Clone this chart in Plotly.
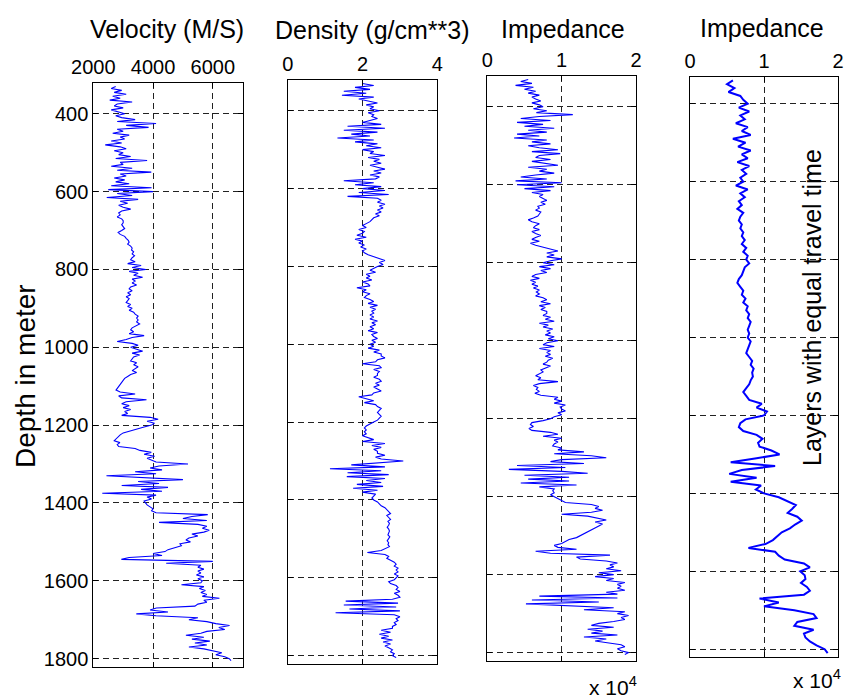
import plotly.graph_objects as go

# ---------------- data ----------------
# depth samples, every 5 m from 330 m to 1805 m
depth_m = list(range(330, 1806, 5))

velocity_ms = [
    2750, 2600, 2950, 2700, 3100, 2650, 2900, 2550, 3300, 2800,
    2700, 3000, 2600, 2850, 3050, 2750, 2950, 3400, 2800, 4100,
    3100, 3850, 2800, 3000, 2650, 3200, 2900, 3050, 2600, 2950,
    2400, 2900, 3100, 2700, 3000, 2850, 3250, 2750, 3800, 2900,
    3000, 2600, 3300, 2800, 3940, 2900, 3100, 2700, 3050, 2750,
    3200, 2600, 3950, 2500, 4000, 2800, 3300, 2450, 3500, 2900,
    3150, 2850, 3000, 3250, 2950, 2850, 2900, 2800, 2950, 3000,
    3000, 2950, 3000, 3050, 2950, 2830, 2900, 3050, 3100, 3170,
    3200, 3150, 3250, 3300, 3280, 3350, 3300, 3380, 3300, 3250,
    3400, 3150, 3600, 3300, 3760, 3200, 3500, 3350, 3650, 3300,
    3400, 3300, 3450, 3250, 3200, 3300, 3150, 3250, 3100, 3200,
    3150, 3100, 3250, 3150, 3300, 3200, 3350, 3400, 3500, 3450,
    3500, 3450, 3550, 3400, 3300, 3250, 3350, 3200, 3700, 3300,
    3100, 2800, 3300, 3500, 3250, 3450, 3650, 3300, 3550, 3350,
    3300, 3250, 3450, 3350, 3500, 3400, 3300, 3450, 3250, 3150,
    3050, 3000, 2950, 2900, 2850, 2800, 2760, 2900, 3400, 2850,
    2950, 3780, 3100, 2950, 3200, 3000, 3250, 3050, 3150, 2950,
    3900, 4170, 3800, 4050, 3950, 3700, 3450, 3250, 3000, 2900,
    2830, 2780, 2700, 2890, 2800, 2850, 3400, 3560, 3940, 3700,
    4050, 3800, 3950, 4100, 5170, 4200, 3900, 4300, 3400, 4100,
    2440, 4000, 5000, 3500, 4200, 2950, 4500, 3600, 4300, 2300,
    4100, 3800, 3950, 3700, 3750, 3800, 3900, 4000, 3950, 4100,
    5830, 5300, 5000, 5800, 4200, 5500, 5800, 5650, 5880, 5700,
    5300, 5500, 5200, 5100, 5250, 4900, 4950, 4700, 4500, 4400,
    4000, 4300, 3200, 2940, 6000, 4440, 5600, 5500, 5700, 5500,
    5600, 5450, 5700, 5500, 5650, 5600, 4950, 5700, 5550, 5750,
    5600, 5800, 5650, 6220, 5700, 5800, 5500, 5400, 4110, 3900,
    4500, 3440, 4100, 5500, 5200, 5800, 6100, 6560, 6200, 6400,
    5800, 5600, 5100, 5700, 5300, 5900, 5400, 5800, 5200, 5700,
    6000, 6300, 6100, 6400, 6550, 6610,
]

density_gcc = [
    2.0, 2.3, 1.8, 2.2, 1.5, 2.1, 1.45, 2.3, 1.9, 2.2,
    2.4, 2.1, 2.3, 2.2, 2.45, 2.15, 2.3, 2.25, 2.4, 2.2,
    2.0, 2.5, 1.6, 2.6, 1.5, 2.4, 1.7, 2.2, 1.33, 2.3,
    1.8, 2.4, 2.1, 2.5, 2.0, 2.3, 2.2, 2.6, 2.15, 2.45,
    2.3, 2.5, 2.2, 2.4, 2.6, 2.3, 2.5, 2.2, 2.45, 2.35,
    1.5, 2.3, 1.8, 2.5, 2.0, 2.6, 1.9, 2.7, 1.6, 2.4,
    2.5, 2.4, 2.6, 2.45, 2.55, 2.4, 2.5, 2.35, 2.45, 2.3,
    2.25, 2.2, 2.1, 2.0, 2.1, 1.9, 2.05, 2.0, 1.85, 2.1,
    1.8, 2.0, 1.9, 2.05, 1.95, 2.1, 2.0, 2.05, 2.15, 2.3,
    2.5, 2.6, 2.45, 2.55, 2.4, 2.3, 2.2, 2.35, 2.1, 2.2,
    2.1, 2.25, 2.0, 2.15, 2.2, 1.85, 2.1, 2.0, 2.2, 2.1,
    2.05, 2.2, 2.3, 2.15, 2.4, 2.2, 2.35, 2.25, 2.3, 2.2,
    2.3, 2.2, 2.4, 2.25, 2.35, 2.2, 2.3, 2.15, 2.4, 2.25,
    2.3, 2.4, 2.25, 2.35, 2.2, 2.3, 2.15, 2.45, 2.3, 2.5,
    2.5, 2.6, 2.4, 2.35, 2.0, 2.45, 2.5, 2.3, 2.45, 2.4,
    2.4, 2.3, 2.45, 2.5, 2.35, 2.45, 2.3, 2.4, 2.5, 2.3,
    2.25, 1.9, 2.1, 2.3, 2.05, 2.35, 2.4, 2.5, 2.45, 2.4,
    2.45, 2.5, 2.45, 2.4, 2.3, 2.2, 2.1, 2.05, 2.1, 2.05,
    2.1, 2.0, 2.15, 2.3, 2.0, 2.6, 2.25, 2.5, 2.3, 2.4,
    2.4, 2.6, 2.35, 2.5, 3.09, 2.3, 1.7, 2.6, 1.13, 2.5,
    1.6, 2.7, 1.58, 2.6, 2.1, 2.5, 1.85, 2.55, 1.75, 2.4,
    2.0, 2.35, 2.3, 2.25, 2.3, 2.4, 2.45, 2.5, 2.6, 2.65,
    2.7, 2.75, 2.65, 2.7, 2.75, 2.68, 2.72, 2.7, 2.66, 2.7,
    2.72, 2.7, 2.68, 2.73, 2.7, 2.66, 2.7, 2.68, 2.72, 2.6,
    2.5, 2.13, 2.6, 2.7, 2.65, 2.75, 2.85, 2.9, 2.85, 2.95,
    2.9, 2.95, 2.85, 2.95, 2.9, 2.85, 2.7, 2.75, 2.9, 2.95,
    2.9, 3.0, 2.85, 2.95, 3.0, 2.8, 1.55, 2.95, 1.5, 2.9,
    1.65, 3.0, 1.28, 2.85, 3.0, 2.9, 2.95, 2.85, 2.9, 2.8,
    2.8, 2.5, 2.75, 2.45, 2.7, 2.5, 2.8, 2.55, 2.75, 2.6,
    2.7, 2.8, 2.75, 2.85, 2.8, 2.9,
]

# impedance in units of 10^4
impedance_depth = [
    0.55, 0.45, 0.6, 0.38, 0.62, 0.5, 0.65, 0.55, 0.7, 0.6,
    0.65, 0.72, 0.6, 0.7, 0.75, 0.62, 0.8, 0.66, 1.15, 0.7,
    0.45, 0.85, 0.4, 0.75, 0.5, 0.9, 0.55, 0.8, 0.4, 0.7,
    0.36, 0.8, 0.6, 0.85, 0.55, 0.7, 0.95, 0.6, 0.98, 0.7,
    0.65, 0.85, 0.6, 0.75, 0.95, 0.55, 0.8, 0.7, 0.9, 0.65,
    0.45, 0.8, 0.38, 1.0, 0.4, 0.9, 0.5, 0.85, 0.6, 0.75,
    0.7, 0.75, 0.8, 0.72, 0.78, 0.68, 0.7, 0.65, 0.72, 0.7,
    0.68, 0.62, 0.55, 0.6, 0.7, 0.65, 0.62, 0.7, 0.6, 0.65,
    0.72, 0.65, 0.6, 0.7, 0.58, 0.65, 0.75, 0.85, 0.95, 0.8,
    0.9, 0.8, 1.0, 0.85, 0.75, 0.9, 0.7, 0.85, 0.72, 0.8,
    0.65, 0.6, 0.7, 0.58, 0.65, 0.6, 0.68, 0.62, 0.7, 0.66,
    0.7, 0.65, 0.75, 0.8, 0.72, 0.85, 0.7, 0.78, 0.72, 0.8,
    0.8, 0.75, 0.85, 0.78, 0.9, 0.7, 0.82, 0.75, 0.88, 0.8,
    0.85, 0.78, 0.9, 0.82, 0.95, 0.8, 0.75, 0.9, 0.7, 0.85,
    0.8, 0.85, 0.78, 0.88, 0.82, 0.8, 0.75, 0.85, 0.78, 0.72,
    0.75, 0.7, 0.65, 0.72, 0.68, 0.95, 0.7, 0.62, 0.68, 0.66,
    0.7, 0.64, 0.72, 0.95, 0.9, 1.0, 0.9, 1.05, 0.98, 1.0,
    1.05, 0.95, 1.0, 0.9, 0.85, 0.75, 0.6, 0.58, 0.62, 0.56,
    0.6, 0.85, 0.95, 0.75, 1.0, 0.9, 0.95, 0.9, 0.88, 1.0,
    0.95, 1.3, 0.9, 1.4, 1.6, 1.0, 0.85, 1.3, 0.4, 1.05,
    0.29, 1.0, 1.35, 0.5, 1.1, 0.55, 1.1, 0.45, 1.2, 0.7,
    0.9, 0.88, 0.9, 0.85, 0.9, 0.95, 1.0, 1.05, 1.4, 1.5,
    1.45, 1.55, 1.4, 1.0, 1.35, 1.5, 1.6, 1.45, 1.55, 1.5,
    1.45, 1.4, 1.35, 1.3, 1.25, 1.2, 1.1, 1.05, 1.0, 0.9,
    0.95, 1.2, 0.65, 0.85, 1.65, 1.2, 1.25, 1.6, 1.75, 1.65,
    1.7, 1.6, 1.8, 1.5, 1.7, 1.45, 1.7, 1.6, 1.85, 1.75,
    1.8, 1.75, 1.85, 1.6, 1.75, 0.7, 1.75, 0.6, 1.5, 0.52,
    1.1, 1.7, 1.3, 1.85, 1.75, 1.9, 1.8, 1.85, 1.7, 1.5,
    1.4, 1.7, 1.35, 1.55, 1.4, 1.75, 1.3, 1.6, 1.45, 1.65,
    1.8, 1.85, 1.75, 1.8, 1.9, 1.85,
]

# layers with equal travel time: time samples (ms) every 5 ms
time_ms = list(range(70, 806, 5))
impedance_time = [
    0.58, 0.5, 0.6, 0.52, 0.68, 0.72,
    0.78, 0.66, 0.8, 0.68, 0.74, 0.62, 0.78, 0.7, 0.82, 0.58,
    0.75, 0.65, 0.82, 0.7, 0.78, 0.64, 0.8, 0.7, 0.76, 0.68,
    0.72, 0.62, 0.78, 0.68, 0.74, 0.66, 0.7, 0.64, 0.72, 0.68,
    0.66, 0.7, 0.68, 0.72, 0.7, 0.74, 0.7, 0.76, 0.72, 0.78,
    0.76, 0.8, 0.74, 0.72, 0.7, 0.66, 0.64, 0.68, 0.72, 0.7,
    0.75, 0.72, 0.78, 0.76, 0.8, 0.78, 0.82, 0.8, 0.78, 0.8,
    0.78, 0.82, 0.8, 0.78, 0.76, 0.8, 0.84, 0.82, 0.86, 0.84,
    0.85, 0.82, 0.8, 0.76, 0.72, 0.76, 0.8, 0.97, 0.9, 1.04,
    1.0, 0.75, 0.68, 0.66, 0.72, 0.9, 0.98, 0.92, 0.94, 1.1,
    1.21, 0.9, 0.55, 1.15, 0.7, 0.53, 0.9, 0.55, 0.96, 0.89,
    1.0, 1.2, 1.32, 1.43, 1.38, 1.32, 1.45, 1.51, 1.42, 1.35,
    1.24, 1.18, 1.12, 1.02, 0.79, 1.15, 1.2, 1.28, 1.54, 1.62,
    1.49, 1.55, 1.56, 1.5, 1.58, 1.62, 1.54, 0.94, 1.2, 1.0,
    1.41, 1.67, 1.71, 1.45, 1.41, 1.67, 1.54, 1.56, 1.62, 1.71,
    1.82, 1.86,
]

titles = ["Velocity (M/S)", "Density (g/cm**3)", "Impedance", "Impedance"]
depth_ticks = [400, 600, 800, 1000, 1200, 1400, 1600, 1800]
time_grid = [100, 200, 300, 400, 500, 600, 700, 800]

# ---------------- layout helpers ----------------
W, H = 847, 700
FONT = "Arial, 'Liberation Sans', sans-serif"


def xdom(left, right):
    return [left / W, right / W]


def ydom(top, bottom):
    return [1 - bottom / H, 1 - top / H]


BLUE = "#0000ff"

fig = go.Figure()
fig.add_trace(go.Scatter(x=velocity_ms, y=depth_m, mode="lines",
                         line=dict(color=BLUE, width=1.1), xaxis="x", yaxis="y"))
fig.add_trace(go.Scatter(x=density_gcc, y=depth_m, mode="lines",
                         line=dict(color=BLUE, width=1.1), xaxis="x2", yaxis="y2"))
fig.add_trace(go.Scatter(x=impedance_depth, y=depth_m, mode="lines",
                         line=dict(color=BLUE, width=1.1), xaxis="x3", yaxis="y3"))
fig.add_trace(go.Scatter(x=impedance_time, y=time_ms, mode="lines",
                         line=dict(color=BLUE, width=2), xaxis="x4", yaxis="y4"))

common = dict(
    showline=True, linecolor="black", linewidth=1, mirror="allticks",
    ticks="inside", ticklen=5, tickcolor="black", tickwidth=1,
    showgrid=True, gridcolor="#222222", gridwidth=1, griddash="6px,4px",
    zeroline=False, tickfont=dict(family=FONT, size=20, color="black"),
    fixedrange=True, automargin=False,
)

DEPTH_RANGE = [1821.5, 321]

fig.update_layout(
    template="none",
    width=W, height=H,
    margin=dict(l=0, r=0, t=0, b=0, autoexpand=False),
    paper_bgcolor="white", plot_bgcolor="white",
    showlegend=False,
    font=dict(family=FONT, color="black"),
    xaxis=dict(common, domain=xdom(93.3, 242.7), range=[2000, 7000],
               tickvals=[2000, 4000, 6000], side="top", anchor="y"),
    yaxis=dict(common, domain=ydom(83, 667), range=DEPTH_RANGE,
               tickvals=depth_ticks, anchor="x"),
    xaxis2=dict(common, domain=xdom(287.7, 437.3), range=[0, 4],
                tickvals=[0, 2, 4], side="top", anchor="y2"),
    yaxis2=dict(common, domain=ydom(80, 664), range=DEPTH_RANGE,
                tickvals=depth_ticks, showticklabels=False, anchor="x2"),
    xaxis3=dict(common, domain=xdom(487.3, 636), range=[0, 2],
                tickvals=[0, 1, 2], side="top", anchor="y3"),
    yaxis3=dict(common, domain=ydom(76, 661), range=DEPTH_RANGE,
                tickvals=depth_ticks, showticklabels=False, anchor="x3"),
    xaxis4=dict(common, domain=xdom(690, 838), range=[0, 2],
                tickvals=[0, 1, 2], side="top", anchor="y4"),
    yaxis4=dict(common, domain=ydom(77, 657), range=[810, 65.7],
                tickvals=time_grid, showticklabels=False, anchor="x4"),
)

ann = []
title_pos = [(167, 29), (372, 30), (563, 29), (762, 28)]
for t, (px, py) in zip(titles, title_pos):
    ann.append(dict(text=t, x=px / W, y=1 - py / H, xref="paper", yref="paper",
                    xanchor="center", yanchor="middle", showarrow=False,
                    font=dict(family=FONT, size=25, color="black")))
ann.append(dict(text="Depth in meter", x=25 / W, y=1 - 376 / H, xref="paper",
                yref="paper", xanchor="center", yanchor="middle", textangle=-90,
                showarrow=False, font=dict(family=FONT, size=28, color="black")))
ann.append(dict(text="Layers with equal travel time", x=812 / W, y=1 - 308 / H,
                xref="paper", yref="paper", xanchor="center", yanchor="middle",
                textangle=-90, showarrow=False,
                font=dict(family=FONT, size=25, color="black")))
for px, py in [(613, 686), (817, 679)]:
    ann.append(dict(text="x 10<sup>4</sup>", x=px / W, y=1 - py / H, xref="paper",
                    yref="paper", xanchor="center", yanchor="middle",
                    showarrow=False, font=dict(family=FONT, size=21, color="black")))
fig.update_layout(annotations=ann)

fig.write_html("out.html")
